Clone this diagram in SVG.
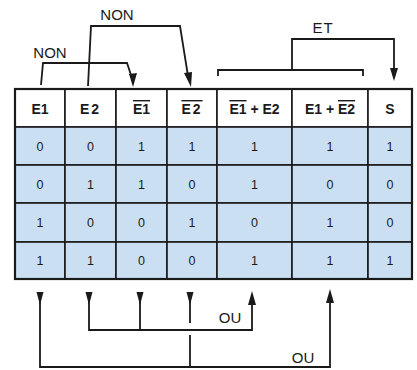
<svg xmlns="http://www.w3.org/2000/svg" width="417" height="370" viewBox="0 0 417 370">
<defs>
<style>
.hd{font-family:"Liberation Sans",Arial,sans-serif;font-size:14px;font-weight:bold;fill:#1a1a1a;text-anchor:middle}
.d{font-family:"Liberation Sans",Arial,sans-serif;font-size:12.5px;fill:#1a1a1a;text-anchor:middle}
.lb{font-family:"Liberation Sans",Arial,sans-serif;font-size:15px;fill:#1a1a1a;text-anchor:middle}
.ol{text-decoration:overline}
.cell{fill:#cbdff3;stroke:#1a1a1a;stroke-width:1.6}
.hcell{fill:#ffffff;stroke:#1a1a1a;stroke-width:1.6}
.ln{fill:none;stroke:#1a1a1a;stroke-width:1.8}
.ah{fill:#1a1a1a;stroke:none}
</style>
</defs>
<rect width="417" height="370" fill="#ffffff"/>
<g id="col-E1">
<rect class="hcell" x="15" y="89" width="50" height="38"/>
<rect class="cell" x="15" y="127" width="50" height="38"/><rect class="cell" x="15" y="165" width="50" height="38"/><rect class="cell" x="15" y="203" width="50" height="39"/><rect class="cell" x="15" y="242" width="50" height="37"/>
<text class="hd" x="40" y="114">E1</text>
<text class="d" x="40" y="150.5">0</text><text class="d" x="40" y="188.5">0</text><text class="d" x="40" y="227">1</text><text class="d" x="40" y="265">1</text>
</g>
<g id="col-E2">
<rect class="hcell" x="65" y="89" width="51" height="38"/>
<rect class="cell" x="65" y="127" width="51" height="38"/><rect class="cell" x="65" y="165" width="51" height="38"/><rect class="cell" x="65" y="203" width="51" height="39"/><rect class="cell" x="65" y="242" width="51" height="37"/>
<text class="hd" x="90.5" y="114" letter-spacing="2">E2</text>
<text class="d" x="90.5" y="150.5">0</text><text class="d" x="90.5" y="188.5">1</text><text class="d" x="90.5" y="227">0</text><text class="d" x="90.5" y="265">1</text>
</g>
<g id="col-notE1">
<rect class="hcell" x="116" y="89" width="51" height="38"/>
<rect class="cell" x="116" y="127" width="51" height="38"/><rect class="cell" x="116" y="165" width="51" height="38"/><rect class="cell" x="116" y="203" width="51" height="39"/><rect class="cell" x="116" y="242" width="51" height="37"/>
<text class="hd" x="141.5" y="114"><tspan class="ol">E1</tspan></text>
<text class="d" x="141.5" y="150.5">1</text><text class="d" x="141.5" y="188.5">1</text><text class="d" x="141.5" y="227">0</text><text class="d" x="141.5" y="265">0</text>
</g>
<g id="col-notE2">
<rect class="hcell" x="167" y="89" width="50" height="38"/>
<rect class="cell" x="167" y="127" width="50" height="38"/><rect class="cell" x="167" y="165" width="50" height="38"/><rect class="cell" x="167" y="203" width="50" height="39"/><rect class="cell" x="167" y="242" width="50" height="37"/>
<text class="hd" x="192" y="114" letter-spacing="2"><tspan class="ol">E2</tspan></text>
<text class="d" x="192" y="150.5">1</text><text class="d" x="192" y="188.5">0</text><text class="d" x="192" y="227">1</text><text class="d" x="192" y="265">0</text>
</g>
<g id="col-notE1-or-E2">
<rect class="hcell" x="217" y="89" width="75" height="38"/>
<rect class="cell" x="217" y="127" width="75" height="38"/><rect class="cell" x="217" y="165" width="75" height="38"/><rect class="cell" x="217" y="203" width="75" height="39"/><rect class="cell" x="217" y="242" width="75" height="37"/>
<text class="hd" x="254.5" y="114"><tspan class="ol">E1</tspan> + E2</text>
<text class="d" x="254.5" y="150.5">1</text><text class="d" x="254.5" y="188.5">1</text><text class="d" x="254.5" y="227">0</text><text class="d" x="254.5" y="265">1</text>
</g>
<g id="col-E1-or-notE2">
<rect class="hcell" x="292" y="89" width="76" height="38"/>
<rect class="cell" x="292" y="127" width="76" height="38"/><rect class="cell" x="292" y="165" width="76" height="38"/><rect class="cell" x="292" y="203" width="76" height="39"/><rect class="cell" x="292" y="242" width="76" height="37"/>
<text class="hd" x="330" y="114">E1 + <tspan class="ol">E2</tspan></text>
<text class="d" x="330" y="150.5">1</text><text class="d" x="330" y="188.5">0</text><text class="d" x="330" y="227">1</text><text class="d" x="330" y="265">1</text>
</g>
<g id="col-S">
<rect class="hcell" x="368" y="89" width="44" height="38"/>
<rect class="cell" x="368" y="127" width="44" height="38"/><rect class="cell" x="368" y="165" width="44" height="38"/><rect class="cell" x="368" y="203" width="44" height="39"/><rect class="cell" x="368" y="242" width="44" height="37"/>
<text class="hd" x="390" y="114">S</text>
<text class="d" x="390" y="150.5">1</text><text class="d" x="390" y="188.5">0</text><text class="d" x="390" y="227">0</text><text class="d" x="390" y="265">1</text>
</g>
<rect x="15" y="89" width="397" height="190" fill="none" stroke="#1a1a1a" stroke-width="2.2"/>
<g id="connectors">
<path class="ln" d="M41,85 L43,63 L127,63 L132,78"/>
<polygon class="ah" points="129,74 137,73 133,87"/>
<path class="ln" d="M88,86 L91,26 L180,26 L188,76"/>
<polygon class="ah" points="184,73 192,72 191,87"/>
<path class="ln" d="M218,76 L218,70 L363,70 L363,76 M292,70 L292,39 L394,39 L394,70"/>
<polygon class="ah" points="390,68 398,68 394,81"/>
<path class="ln" d="M40,293 L40,367 L330,367 L330,302 M89,293 L89,330 L252,330 L252,302 M140,293 L140,330 M190,293 L190,323 M190,335 L190,367"/>
<polygon class="ah" points="36.5,292 43.5,292 40,305"/>
<polygon class="ah" points="85.5,292 92.5,292 89,305"/>
<polygon class="ah" points="136.5,292 143.5,292 140,305"/>
<polygon class="ah" points="186.5,292 193.5,292 190,305"/>
<polygon class="ah" points="248,305 256,305 252,291"/>
<polygon class="ah" points="326,303 334,303 330,289"/>
<text class="lb" x="50" y="58">NON</text>
<text class="lb" x="117" y="20">NON</text>
<text class="lb" x="323" y="33" letter-spacing="1">ET</text>
<text class="lb" x="230" y="323">OU</text>
<text class="lb" x="303" y="363">OU</text>
</g>
</svg>
